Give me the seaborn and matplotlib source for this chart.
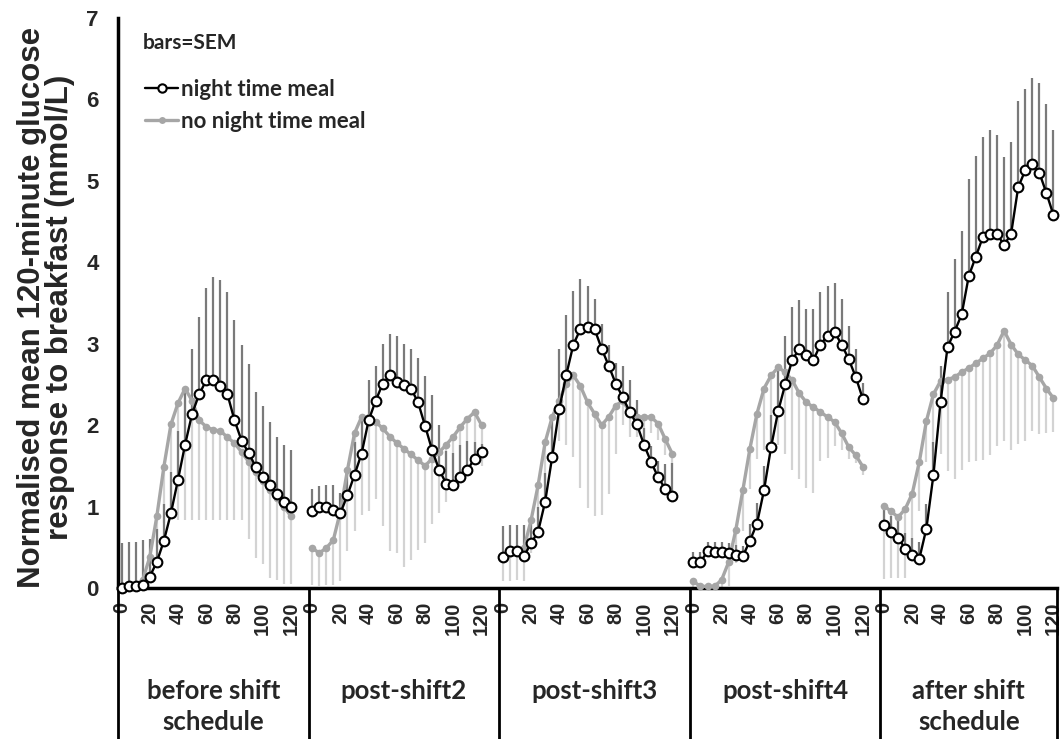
import pandas as pd
import seaborn as sns
import matplotlib.pyplot as plt
from matplotlib.lines import Line2D

# categorias del eje x (grupos) y minutos dentro de cada grupo
grupos = ['before shift\nschedule', 'post-shift2', 'post-shift3', 'post-shift4', 'after shift\nschedule']
minutos = list(range(0, 125, 5))
minutos_etiqueta = list(range(0, 121, 20))

# night time meal: medias y SEM (barras hacia arriba)
cena_antes = [0.0, 0.02, 0.02, 0.04, 0.14, 0.32, 0.58, 0.92, 1.33, 1.76, 2.14, 2.38, 2.55, 2.56, 2.48, 2.38, 2.06, 1.81, 1.66, 1.49, 1.36, 1.26, 1.16, 1.06, 1.0]
cena_post2 = [0.94, 1.0, 0.99, 0.96, 0.92, 1.14, 1.39, 1.65, 2.06, 2.30, 2.51, 2.61, 2.53, 2.49, 2.45, 2.28, 1.99, 1.69, 1.45, 1.28, 1.26, 1.36, 1.45, 1.59, 1.67]
cena_post3 = [0.38, 0.45, 0.45, 0.39, 0.55, 0.69, 1.06, 1.61, 2.20, 2.62, 2.99, 3.18, 3.21, 3.18, 2.94, 2.73, 2.51, 2.34, 2.16, 2.01, 1.76, 1.55, 1.36, 1.22, 1.13]
cena_post4 = [0.32, 0.32, 0.45, 0.44, 0.44, 0.43, 0.41, 0.39, 0.58, 0.79, 1.20, 1.73, 2.17, 2.50, 2.80, 2.94, 2.86, 2.80, 2.99, 3.10, 3.14, 2.99, 2.81, 2.59, 2.32]
cena_despues = [0.77, 0.69, 0.62, 0.48, 0.41, 0.36, 0.73, 1.39, 2.28, 2.96, 3.15, 3.36, 3.83, 4.07, 4.31, 4.35, 4.35, 4.21, 4.35, 4.92, 5.13, 5.21, 5.10, 4.85, 4.58]

sem_cena_antes = [0.55, 0.55, 0.55, 0.55, 0.46, 0.4, 0.45, 0.5, 0.6, 0.7, 0.8, 0.95, 1.14, 1.26, 1.3, 1.26, 1.23, 1.17, 1.09, 0.92, 0.88, 0.78, 0.7, 0.7, 0.7]
sem_cena_post2 = [0.28, 0.25, 0.27, 0.3, 0.25, 0.3, 0.4, 0.45, 0.5, 0.43, 0.49, 0.51, 0.57, 0.51, 0.49, 0.54, 0.61, 0.68, 0.55, 0.4, 0.4, 0.4, 0.35, 0.2, 0.1]
sem_cena_post3 = [0.38, 0.32, 0.32, 0.38, 0.3, 0.3, 0.35, 0.5, 0.74, 0.73, 0.66, 0.62, 0.5, 0.37, 0.3, 0.25, 0.25, 0.39, 0.39, 0.3, 0.2, 0.2, 0.2, 0.3, 0.4]
sem_cena_post4 = [0.12, 0.12, 0.12, 0.12, 0.12, 0.12, 0.12, 0.12, 0.2, 0.25, 0.3, 0.4, 0.5, 0.6, 0.65, 0.6, 0.57, 0.63, 0.64, 0.61, 0.61, 0.56, 0.41, 0.35, 0.2]
sem_cena_despues = [0.2, 0.2, 0.2, 0.2, 0.2, 0.2, 0.3, 0.4, 0.45, 0.68, 0.89, 1.03, 1.19, 1.24, 1.23, 1.28, 1.21, 1.08, 1.13, 1.06, 1.0, 1.05, 1.1, 1.09, 1.05]

# no night time meal: medias y SEM (barras hacia abajo)
sin_antes = [0.0, 0.01, 0.04, 0.1, 0.38, 0.88, 1.49, 2.01, 2.27, 2.45, 2.3, 2.06, 1.98, 1.94, 1.93, 1.85, 1.78, 1.67, 1.55, 1.43, 1.32, 1.2, 1.1, 1.0, 0.88]
sin_post2 = [0.49, 0.43, 0.49, 0.59, 0.94, 1.45, 1.90, 2.10, 2.10, 2.04, 1.96, 1.86, 1.78, 1.71, 1.64, 1.57, 1.50, 1.59, 1.67, 1.76, 1.86, 1.98, 2.08, 2.16, 2.0]
sin_post3 = [0.38, 0.43, 0.45, 0.49, 0.83, 1.26, 1.79, 2.10, 2.30, 2.51, 2.61, 2.48, 2.28, 2.14, 2.0, 2.10, 2.24, 2.30, 2.16, 2.10, 2.10, 2.10, 2.02, 1.83, 1.65]
sin_post4 = [0.08, 0.02, 0.02, 0.02, 0.10, 0.32, 0.71, 1.20, 1.71, 2.14, 2.45, 2.61, 2.71, 2.65, 2.55, 2.39, 2.28, 2.22, 2.16, 2.10, 2.04, 1.90, 1.73, 1.63, 1.49]
sin_despues = [1.01, 0.94, 0.87, 0.97, 1.16, 1.55, 2.05, 2.38, 2.54, 2.56, 2.59, 2.65, 2.70, 2.76, 2.82, 2.88, 2.98, 3.16, 2.99, 2.87, 2.80, 2.73, 2.59, 2.45, 2.33]

sem_sin_antes = [0.05, 0.05, 0.05, 0.1, 0.2, 0.38, 0.69, 1.16, 1.44, 1.62, 1.47, 1.23, 1.15, 1.11, 1.1, 1.02, 0.95, 0.84, 0.95, 1.06, 1.02, 1.08, 1.0, 0.95, 0.83]
sem_sin_post2 = [0.45, 0.4, 0.45, 0.55, 0.85, 1.0, 1.2, 1.2, 1.15, 0.95, 1.2, 1.4, 1.35, 1.45, 1.3, 1.1, 0.95, 0.8, 0.75, 0.7, 0.45, 0.55, 0.5, 0.6, 0.5]
sem_sin_post3 = [0.3, 0.35, 0.35, 0.4, 0.4, 0.45, 0.5, 0.4, 0.5, 0.75, 1.0, 1.25, 1.3, 1.25, 1.1, 0.95, 0.6, 0.3, 0.3, 0.25, 0.25, 0.2, 0.2, 0.2, 0.2]
sem_sin_post4 = [0.1, 0.05, 0.05, 0.05, 0.1, 0.3, 0.4, 0.5, 0.5, 0.55, 0.75, 0.95, 0.95, 1.0, 1.1, 1.05, 1.05, 1.05, 0.6, 0.5, 0.3, 0.2, 0.15, 0.1, 0.1]
sem_sin_despues = [0.9, 0.82, 0.75, 0.85, 0.8, 0.6, 0.5, 0.7, 0.9, 1.12, 1.25, 1.2, 1.15, 1.2, 1.25, 1.25, 1.24, 1.35, 1.3, 1.1, 1.0, 0.8, 0.7, 0.55, 0.42]

cena = [cena_antes, cena_post2, cena_post3, cena_post4, cena_despues]
sem_cena = [sem_cena_antes, sem_cena_post2, sem_cena_post3, sem_cena_post4, sem_cena_despues]
sin = [sin_antes, sin_post2, sin_post3, sin_post4, sin_despues]
sem_sin = [sem_sin_antes, sem_sin_post2, sem_sin_post3, sem_sin_post4, sem_sin_despues]

# en excel hay dos categorias vacias entre grupos
hueco = 2
paso = len(minutos) + hueco


def armar_df(medias, sems):
    filas = []
    for g, (m, s) in enumerate(zip(medias, sems)):
        for k, (v, e) in enumerate(zip(m, s)):
            filas.append({'pos': g * paso + k, 'grupo': g, 'valor': v, 'sem': e})
    return pd.DataFrame(filas)


df_cena = armar_df(cena, sem_cena)
df_sin = armar_df(sin, sem_sin)

sns.set_style('white')
plt.rcParams['font.family'] = ['Liberation Sans', 'DejaVu Sans']
fuente_leyenda = ['Lato', 'DejaVu Sans']

fig = plt.figure(figsize=(10.61, 7.39), dpi=100)
ax = fig.add_axes([118 / 1061, 151 / 739, 939 / 1061, 570 / 739])

# barras de error de un solo lado
ax.vlines(df_sin['pos'], df_sin['valor'] - df_sin['sem'], df_sin['valor'], color='#d3d3d3', lw=1.6, zorder=1)
ax.vlines(df_cena['pos'], df_cena['valor'], df_cena['valor'] + df_cena['sem'], color='#7a7a7a', lw=1.6, zorder=2)

sns.lineplot(data=df_sin, x='pos', y='valor', units='grupo', estimator=None, ax=ax,
             color='#a6a6a6', lw=2.4, marker='o', markersize=5.5, markerfacecolor='#a6a6a6',
             markeredgecolor='#a6a6a6', markeredgewidth=0, zorder=3, clip_on=False)
sns.lineplot(data=df_cena, x='pos', y='valor', units='grupo', estimator=None, ax=ax,
             color='black', lw=1.7, marker='o', markersize=7, markerfacecolor='white',
             markeredgecolor='black', markeredgewidth=1.5, zorder=4, clip_on=False)

ultimo = (len(grupos) - 1) * paso + len(minutos)
ax.set_xlim(-0.5, ultimo - 0.5)
ax.set_ylim(0, 7)
ax.set_yticks(range(8))

ticks = [g * paso + minutos.index(m) for g in range(len(grupos)) for m in minutos_etiqueta]
ax.set_xticks(ticks)
ax.set_xticklabels([str(m) for g in range(len(grupos)) for m in minutos_etiqueta], rotation=90)
ax.tick_params(axis='x', length=0, pad=10, labelsize=14.5)
ax.tick_params(axis='y', direction='out', length=6, width=2, labelsize=16, pad=8, color='black')
for t in ax.get_xticklabels() + ax.get_yticklabels():
    t.set_fontweight('bold')

ax.spines[['top', 'right']].set_visible(False)
for lado in ['left', 'bottom']:
    ax.spines[lado].set_linewidth(2.5)
    ax.spines[lado].set_color('black')

# separadores de grupos y etiquetas de grupo debajo del eje
trans = ax.get_xaxis_transform()
bordes = [g * paso - 0.5 for g in range(len(grupos))] + [ultimo - 0.5]
for b in bordes:
    ax.plot([b, b], [0, -0.3], transform=trans, color='black', lw=2, clip_on=False)
for g, nombre in enumerate(grupos):
    centro = (bordes[g] + bordes[g + 1]) / 2
    ax.text(centro, -0.16, nombre, transform=trans, ha='center', va='top',
            fontsize=18.5, family=fuente_leyenda, fontweight='bold', linespacing=1.35)

ax.set_xlabel('')
ax.set_ylabel('Normalised mean 120-minute glucose\nresponse to breakfast (mmol/L)',
              fontsize=22.5, fontweight='bold', linespacing=0.9)
ax.yaxis.set_label_coords(-0.046, 0.493)

# leyenda
ax.text(0.0266, 0.956, 'bars=SEM', transform=ax.transAxes, ha='left', va='center',
        fontsize=15, family=fuente_leyenda, fontweight='bold')
manejadores = [
    Line2D([], [], color='black', lw=1.7, marker='o', markersize=6, markerfacecolor='white',
           markeredgecolor='black', markeredgewidth=1.5),
    Line2D([], [], color='#a6a6a6', lw=2.4, marker='o', markersize=5, markerfacecolor='#a6a6a6',
           markeredgewidth=0),
]
ax.legend(manejadores, ['night time meal', 'no night time meal'], loc='upper left',
          bbox_to_anchor=(0.0288, 0.893), frameon=False, handlelength=1.5, handletextpad=0.12,
          labelspacing=0.5, borderpad=0, borderaxespad=0,
          prop={'family': fuente_leyenda, 'weight': 'bold', 'size': 16})

plt.savefig('out.png', dpi=100)
